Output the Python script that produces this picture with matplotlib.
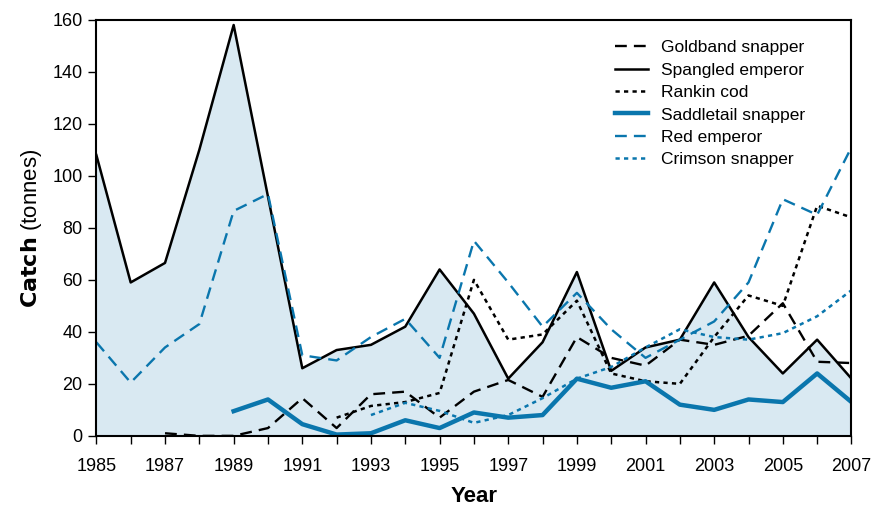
import numpy as np
import matplotlib
matplotlib.use("Agg")
from matplotlib import pyplot as plt

plt.rcParams['font.family'] = ['Liberation Sans', 'DejaVu Sans']

years = list(range(1985, 2008))
nan = np.nan

spangled = [108, 59, 66.5, 110, 158, 92, 26, 33, 35, 42, 64, 47, 22, 36, 63,
            25, 34, 37, 59, 38, 24, 37, 22]
goldband = [nan, nan, 1, 0, 0, 3, 14.5, 3, 16, 17, 7, 17, 21.5, 15, 38,
            30, 27, 37, 35, 38.5, 51, 28.5, 28]
rankin = [nan, nan, nan, nan, nan, nan, nan, 7, 11.5, 13, 16.5, 60, 37, 39, 52,
          24, 21, 20, 38, 54, 50, 88.5, 84]
saddletail = [nan, nan, nan, nan, 9.5, 14, 4.5, 0.5, 1, 6, 3, 9, 7, 8, 22,
              18.5, 21, 12, 10, 14, 13, 24, 13]
red_emperor = [36, 20.5, 34, 43, 86.5, 93, 31, 29, 38, 45, 30, 75, 59, 42, 55,
               41, 30, 37, 44, 59, 91, 85, 111]
crimson = [nan, nan, nan, nan, nan, nan, nan, nan, 8, 12.7, 9.6, 5, 8, 14.5, 22,
           26.5, 34, 41, 38, 37, 39.5, 46, 56]

blue = '#0a76ad'
fill = '#d9e9f2'

fig = plt.figure(figsize=(8.76, 5.08), dpi=100)
ax = fig.add_axes([0.110, 0.142, 0.862, 0.819])

ax.fill_between(years, spangled, 0, color=fill, lw=0)

ax.plot(years, goldband, color='black', lw=1.7, ls=(0, (5, 3)), label='Goldband snapper')
ax.plot(years, spangled, color='black', lw=1.8, label='Spangled emperor')
ax.plot(years, rankin, color='black', lw=1.8, ls=(0, (1.7, 1.7)), label='Rankin cod')
ax.plot(years, saddletail, color=blue, lw=3.2, label='Saddletail snapper')
ax.plot(years, red_emperor, color=blue, lw=1.7, ls=(0, (5, 3)), label='Red emperor')
ax.plot(years, crimson, color=blue, lw=1.8, ls=(0, (1.7, 1.7)), label='Crimson snapper')

ax.set_xlim(1985, 2007)
ax.set_ylim(0, 160)
ax.set_xticks(years, minor=True)
ax.set_xticks(range(1985, 2008, 2))
ax.set_yticks(range(0, 161, 20))
ax.tick_params(axis='both', which='both', direction='out', length=6, width=1,
               labelsize=13, pad=4)
ax.tick_params(axis='x', which='major', pad=10)
for s in ax.spines.values():
    s.set_linewidth(1.5)

ax.set_xlabel('Year', fontsize=16, fontweight='bold', labelpad=8)
ax.set_ylabel(r'$\bf{Catch}$ (tonnes)', fontsize=16, labelpad=6)

leg = ax.legend(loc='upper left', bbox_to_anchor=(0.677, 0.968), frameon=False,
                fontsize=12.5, handlelength=1.9, labelspacing=0.42, handletextpad=0.8,
                borderaxespad=0)

fig.savefig('out.png', dpi=100)
